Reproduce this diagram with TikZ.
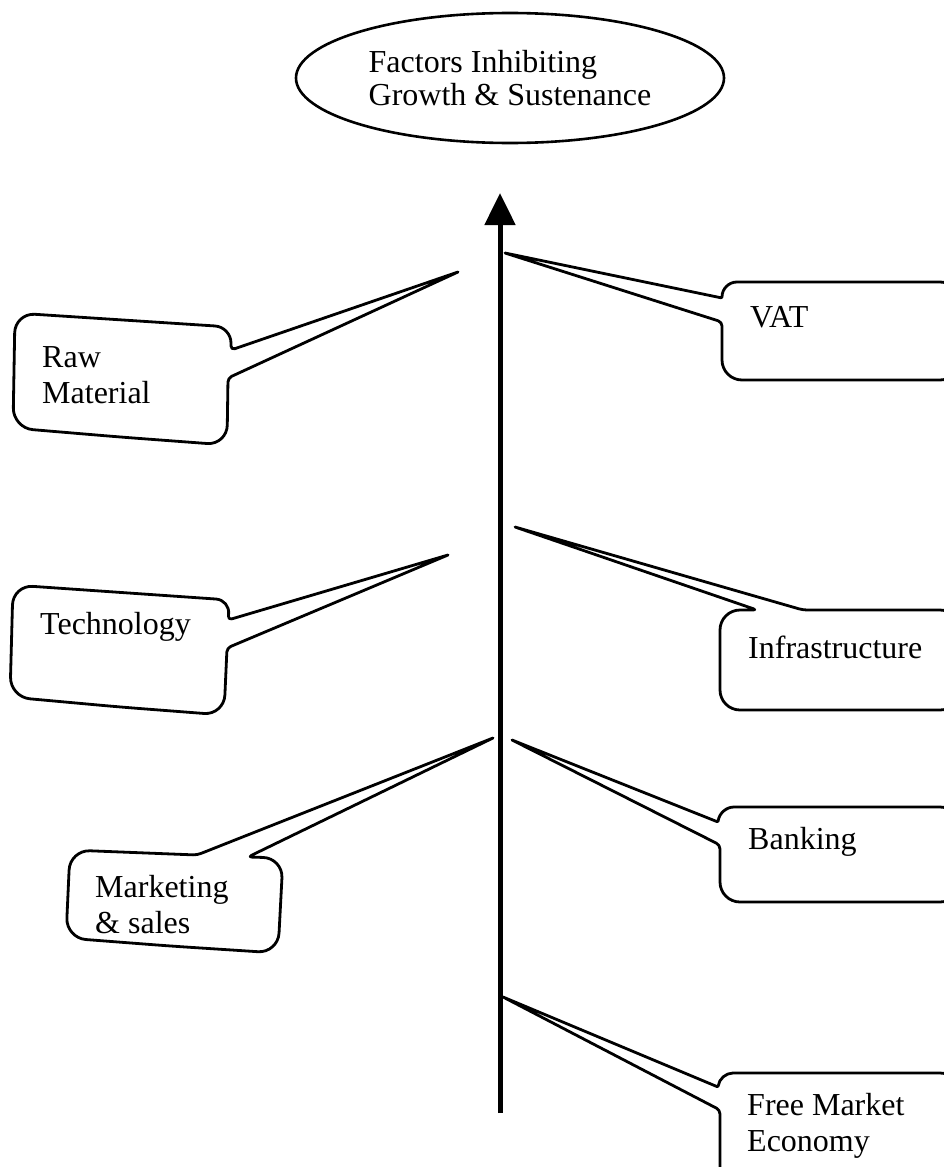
\documentclass[tikz,border=0pt]{standalone}
\usepackage{fontspec}
\setmainfont{Liberation Serif}
\usetikzlibrary{shapes.geometric,arrows.meta}

\tikzset{
  bubble/.style={draw=black, line width=2.8pt, line join=round, fill=white},
  label/.style={anchor=west, inner sep=0pt, align=left,
    font=\fontsize{32}{36}\selectfont},
  goal/.style={draw=black, line width=2.6pt, ellipse, inner sep=0pt,
    minimum width=428pt, minimum height=130pt, align=left,
    font=\fontsize{32}{33}\selectfont},
  axis/.style={line width=5pt, -{Triangle[width=30pt,length=32pt]}}
}

\begin{document}
\begin{tikzpicture}[x=1pt, y=-1pt]
  \clip (0,0) rectangle (944,1167);
  \fill[white] (0,0) rectangle (944,1167);

  % heading
  \node[goal] (title) at (510,78) {Factors Inhibiting\\Growth \& Sustenance};

  % central axis
  \coordinate (axisbot) at (500,1113);
  \coordinate (axistop) at (500,193);
  \draw[axis] (axisbot) -- (axistop);

  % pointer tips
  \coordinate (tipraw)  at (458,272);
  \coordinate (tiptech) at (448,555);
  \coordinate (tipmkt)  at (493,738);
  \coordinate (tipvat)  at (505,253);
  \coordinate (tipinf)  at (515,527);
  \coordinate (tipbank) at (512,740);
  \coordinate (tipfree) at (503,997);

  % left-hand speech bubbles (the radius in force before "-- (p)" rounds p)
  \draw[bubble] (120,437) [rounded corners=20pt] -- (13,428) -- (15,313)
    [rounded corners=16pt] -- (231,327)
    [rounded corners=4pt] -- (231,350)
    [sharp corners] -- (tipraw)
    [rounded corners=4pt] -- (228,378)
    [rounded corners=20pt] -- (227,445) -- cycle;
  \draw[bubble] (120,707) [rounded corners=20pt] -- (10,697) -- (13,585)
    [rounded corners=14pt] -- (230,600)
    [rounded corners=4pt] -- (228,620)
    [sharp corners] -- (tiptech)
    [rounded corners=4pt] -- (227,648)
    [rounded corners=20pt] -- (224,715) -- cycle;
  \draw[bubble] (170,946) [rounded corners=20pt] -- (66,938) -- (70,850)
    [rounded corners=4pt] -- (197,855)
    [sharp corners] -- (tipmkt)
    [rounded corners=4pt] -- (248,857)
    [rounded corners=20pt] -- (283,858) -- (278,953) -- cycle;

  % right-hand speech bubbles
  \draw[bubble] (840,380) [rounded corners=20pt] -- (722,380)
    [rounded corners=4pt] -- (722,322)
    [sharp corners] -- (tipvat)
    [rounded corners=1pt] -- (722,298)
    [rounded corners=15pt] -- (722,282)
    [rounded corners=20pt] -- (960,282) -- (960,380) -- cycle;
  \draw[bubble] (840,710) [rounded corners=20pt] -- (720,710) -- (720,610)
    [rounded corners=4pt] -- (757,610)
    [sharp corners] -- (tipinf)
    [rounded corners=4pt] -- (803,610)
    [rounded corners=20pt] -- (960,610) -- (960,710) -- cycle;
  \draw[bubble] (840,902) [rounded corners=20pt] -- (720,902)
    [rounded corners=4pt] -- (720,845)
    [sharp corners] -- (tipbank)
    [rounded corners=1pt] -- (718,822)
    [rounded corners=14pt] -- (720,807)
    [rounded corners=20pt] -- (960,807) -- (960,902) -- cycle;
  \draw[bubble] (840,1200) [rounded corners=20pt] -- (720,1200)
    [rounded corners=4pt] -- (720,1110)
    [sharp corners] -- (tipfree)
    [rounded corners=1pt] -- (718,1087)
    [rounded corners=13pt] -- (720,1073)
    [rounded corners=20pt] -- (960,1073) -- (960,1200) -- cycle;

  % bubble texts
  \node[label] (raw)   at (42,375)   {Raw\\Material};
  \node[label] (tech)  at (40,627)   {Technology};
  \node[label] (mkt)   at (95,905)   {Marketing\\\& sales};
  \node[label] (vat)   at (750,317)  {VAT};
  \node[label] (infra) at (748,647)  {Infrastructure};
  \node[label] (bank)  at (748,842)  {Banking};
  \node[label] (free)  at (747,1126) {Free Market\\Economy};
\end{tikzpicture}
\end{document}
